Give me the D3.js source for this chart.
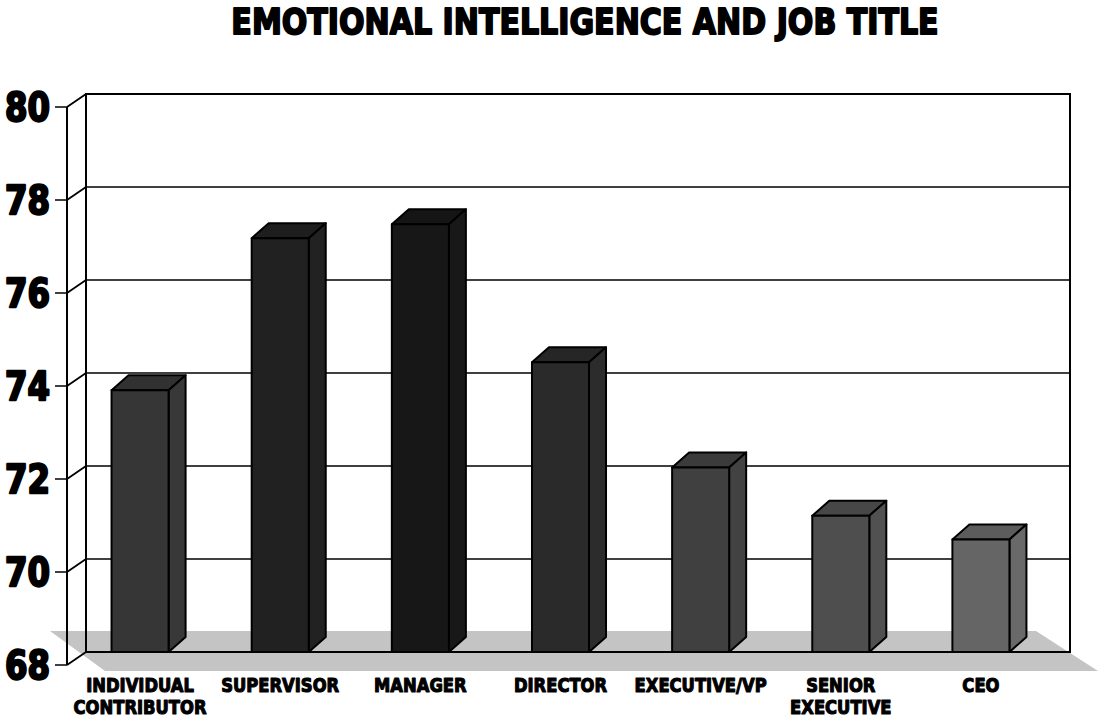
<!DOCTYPE html>
<html><head><meta charset="utf-8">
<script src="https://cdn.jsdelivr.net/npm/d3@7"></script>
<style>body{margin:0;background:#fff}svg{display:block}</style></head>
<body>
<svg id="c" width="1102" height="720"></svg>
<script>
const title = "EMOTIONAL INTELLIGENCE AND JOB TITLE";
const categories = ["INDIVIDUAL\nCONTRIBUTOR", "SUPERVISOR", "MANAGER", "DIRECTOR", "EXECUTIVE/VP", "SENIOR\nEXECUTIVE", "CEO"];
const values = [73.63, 76.9, 77.2, 74.23, 71.97, 70.93, 70.42];
const barColors = ["#363636", "#212121", "#171717", "#2a2a2a", "#404040", "#4e4e4e", "#656565"];
const yTicks = [68, 70, 72, 74, 76, 78, 80];

const FONT = "'DejaVu Sans','Liberation Sans',sans-serif";
const svg = d3.select("#c");

const x = d3.scaleBand().domain(categories).range([70, 1051]).paddingInner(0.593).paddingOuter(0.2965);
const yB = d3.scaleLinear().domain([68, 80]).range([652, 94]);
const WX = 19, WY = -13;       // wall depth
const BX = 17, BY = -15;       // bar depth
const axisX = 67, wallX = axisX + WX, wallR = 1070;
const yF = v => yB(v) - WY;

// floor shadow
const fy0 = yB(68) - 21, fy1 = yB(68) + 19;
svg.append("polygon")
  .attr("points", [[50, fy0], [1036, fy0], [1098, fy1], [105, fy1]].map(p => p.join(",")).join(" "))
  .attr("fill", "#c4c4c4");

// back wall gridlines
svg.append("g").selectAll("line").data(yTicks).join("line")
  .attr("x1", wallX).attr("x2", wallR)
  .attr("y1", d => yB(d)).attr("y2", d => yB(d))
  .attr("stroke", "#000").attr("stroke-width", 1.5);
svg.append("rect").attr("x", wallX).attr("y", yB(80)).attr("width", wallR - wallX).attr("height", yB(68) - yB(80))
  .attr("fill", "none").attr("stroke", "#000").attr("stroke-width", 2);

// side wall diagonals and front axis
svg.append("g").selectAll("line").data(yTicks).join("line")
  .attr("x1", axisX).attr("x2", wallX)
  .attr("y1", d => yF(d)).attr("y2", d => yB(d))
  .attr("stroke", "#000").attr("stroke-width", 1.8);
svg.append("line").attr("x1", axisX).attr("x2", axisX).attr("y1", yF(80)).attr("y2", yF(68))
  .attr("stroke", "#000").attr("stroke-width", 2);
svg.append("g").selectAll("line").data(yTicks).join("line")
  .attr("x1", axisX - 12).attr("x2", axisX)
  .attr("y1", d => yF(d)).attr("y2", d => yF(d))
  .attr("stroke", "#000").attr("stroke-width", 1.5);
svg.append("g").selectAll("g").data(yTicks).join("g")
  .attr("transform", d => `translate(50,${yF(d) + 14}) scale(0.83,1)`)
  .append("text")
  .attr("text-anchor", "end")
  .attr("font-family", FONT).attr("font-weight", "bold").attr("font-size", 39)
  .attr("stroke", "#000").attr("stroke-width", 2.4).attr("stroke-linejoin", "round")
  .text(d => d);

// bars
const bars = svg.append("g").selectAll("g").data(categories).join("g");
bars.each(function (c, i) {
  const g = d3.select(this);
  const x0 = x(c), x1 = x0 + x.bandwidth();
  const yt = yB(values[i]), yb = yB(68);
  const col = d3.color(barColors[i]);
  const attrs = s => s.attr("stroke", "#000").attr("stroke-width", 2).attr("stroke-linejoin", "round");
  g.append("polygon").call(attrs).attr("fill", col.darker(0.25))
    .attr("points", [[x0, yt], [x0 + BX, yt + BY], [x1 + BX, yt + BY], [x1, yt]].map(p => p.join(",")).join(" "));
  g.append("polygon").call(attrs).attr("fill", col.brighter(0.1))
    .attr("points", [[x1, yt], [x1 + BX, yt + BY], [x1 + BX, yb + BY], [x1, yb]].map(p => p.join(",")).join(" "));
  g.append("rect").call(attrs).attr("fill", col)
    .attr("x", x0).attr("y", yt).attr("width", x.bandwidth()).attr("height", yb - yt);
});

// category labels (condensed), one text per line
const labG = svg.append("g").selectAll("g").data(categories).join("g")
  .attr("transform", c => `translate(${x(c) + x.bandwidth() / 2},0) scale(0.84,1)`);
labG.each(function (c) {
  const g = d3.select(this);
  c.split("\n").forEach((line, k) => {
    g.append("text")
      .attr("x", 0).attr("y", 692 + k * 22.5)
      .attr("text-anchor", "middle")
      .attr("font-family", FONT).attr("font-weight", "bold").attr("font-size", 19.5)
      .attr("stroke", "#000").attr("stroke-width", 1.2).attr("stroke-linejoin", "round")
      .text(line);
  });
});

// title
svg.append("g").attr("transform", "translate(585,34) scale(0.835,1)")
  .append("text").attr("text-anchor", "middle")
  .attr("font-family", FONT).attr("font-weight", "bold").attr("font-size", 36)
  .attr("stroke", "#000").attr("stroke-width", 2).attr("stroke-linejoin", "round")
  .text(title);
</script>
</body></html>
